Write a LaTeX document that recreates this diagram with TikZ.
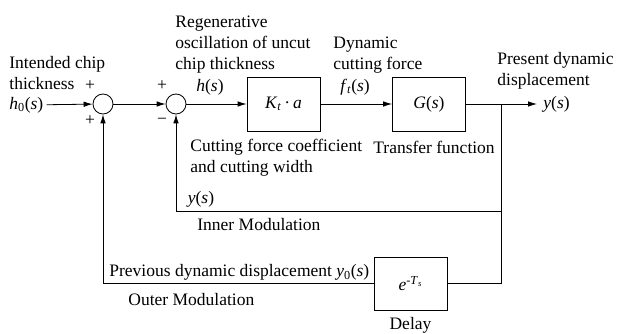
\documentclass[tikz,border=0pt]{standalone}
\usepackage{fontspec}
\setmainfont{Liberation Serif}
\usetikzlibrary{arrows.meta}
\newcommand{\var}[1]{\textit{#1}}

\begin{document}
\begin{tikzpicture}[x=1pt, y=-1pt, line width=0.8pt,
  blk/.style={draw, minimum width=73pt, minimum height=54pt, inner sep=0pt},
  sumnode/.style={draw, circle, minimum size=20pt, inner sep=0pt},
  lbl/.style={inner sep=0pt, align=left, font=\fontsize{17.5}{21}\selectfont},
  arr/.style={-{Latex[length=9pt,width=5.5pt]}}]
  \useasboundingbox (0,0) rectangle (622,334);

  % blocks and summing points
  \node[sumnode] (s1) at (103,104) {};
  \node[sumnode] (s2) at (176,104) {};
  \node[blk] (kb) at (283.5,104) {\fontsize{17.5}{21}\selectfont\var{K}\textsubscript{\var{t}}\,\textperiodcentered\,\var{a}};
  \node[blk] (gb) at (429,104) {\fontsize{17.5}{21}\selectfont\var{G}(\var{s})};
  \node[blk, minimum height=53pt] (db) at (410.5,283.5) {\fontsize{17.5}{21}\selectfont\var{e}\textsuperscript{-\var{T}\textsubscript{\var{s}}}};

  % signals
  \node[lbl, anchor=west, inner xsep=3pt] (hin) at (6,105) {\var{h}\textsubscript{0}(\var{s})};
  \node[lbl] (p1) at (90,86) {+};
  \node[lbl] (p2) at (90,121) {+};
  \node[lbl] (p3) at (162,86) {+};
  \node[lbl] (m1) at (162,121) {−};
  \node[lbl] (hs) at (210,87) {\var{h}(\var{s})};
  \node[lbl] (ft) at (355,87) {\var{f}\textsubscript{\var{t}}(\var{s})};
  \coordinate (yout) at (537,104);
  \node[lbl, anchor=west] (ys) at (543,104) {\var{y}(\var{s})};
  \node[lbl] (yin) at (201,199) {\var{y}(\var{s})};

  % captions
  \node[lbl, anchor=north west] (intended) at (9,56) {Intended chip\\thickness};
  \node[lbl, anchor=north west] (regen) at (175,16) {Regenerative\\oscillation of uncut\\chip thickness};
  \node[lbl, anchor=north west] (dyn) at (333,37) {Dynamic\\cutting force};
  \node[lbl, anchor=north west] (present) at (497,52) {Present dynamic\\displacement};
  \node[lbl, anchor=north west] (coeff) at (190,139) {Cutting force coefficient\\and cutting width};
  \node[lbl, anchor=north west] (transfer) at (373,141) {Transfer function};
  \node[lbl, anchor=north west] (inner) at (197,218) {Inner Modulation};
  \node[lbl, anchor=north west] (previous) at (109,264) {Previous dynamic displacement \var{y}\textsubscript{0}(\var{s})};
  \node[lbl, anchor=north west] (outer) at (128,293) {Outer Modulation};
  \node[lbl, anchor=north] (delay) at (410.5,317) {Delay};

  % forward path
  \draw[arr] (hin) -- (s1);
  \draw[arr] (s1) -- (s2);
  \draw[arr] (s2) -- (kb);
  \draw[arr] (kb) -- (gb);
  \draw[arr] (gb) -- (yout);

  % feedback loops
  \coordinate (br) at (501,104);
  \coordinate (ib) at (501,211);
  \coordinate (ob) at (501,283.5);
  \draw[arr] (br) -- (ib) -| (s2);
  \draw (ib) -- (ob) -- (db);
  \draw[arr] (db) -| (s1);
\end{tikzpicture}
\end{document}
